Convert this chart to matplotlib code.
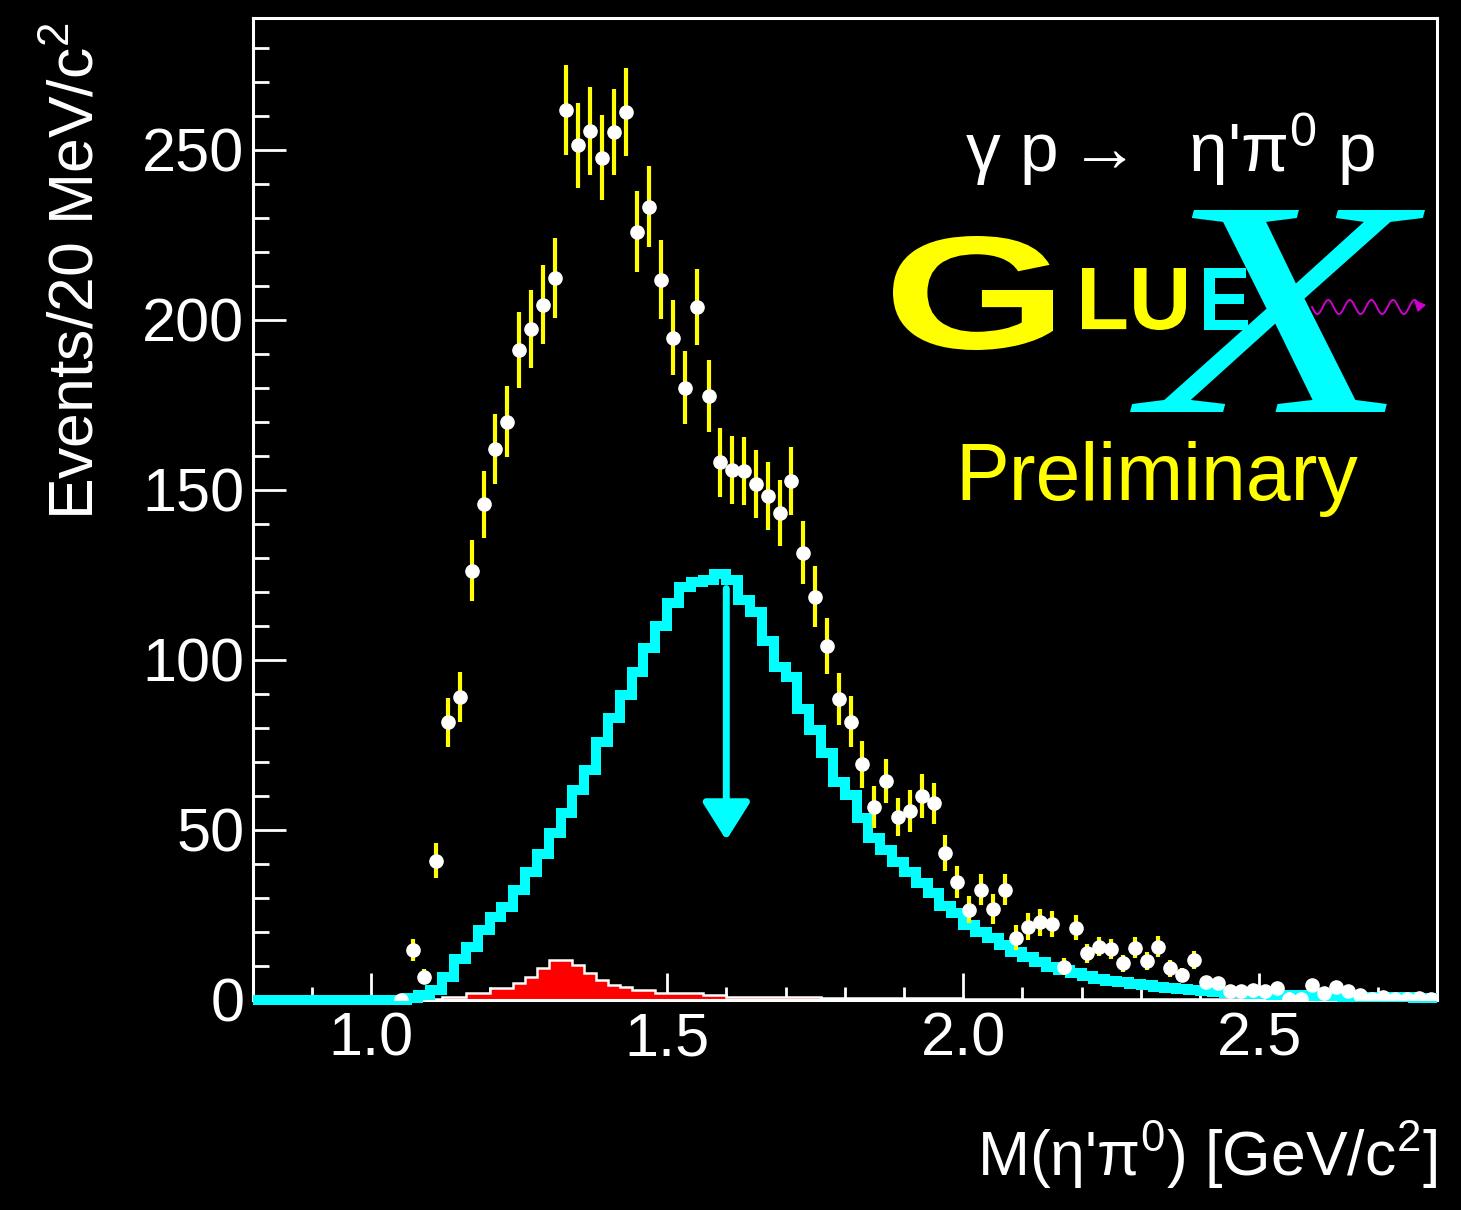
"""GlueX preliminary: M(eta' pi0) spectrum with fitted component histograms."""

import matplotlib
matplotlib.use('Agg')
import matplotlib.pyplot as plt
import numpy as np
from matplotlib.font_manager import FontProperties
from matplotlib.patches import PathPatch
from matplotlib.textpath import TextPath
from matplotlib.ticker import MultipleLocator
from matplotlib.transforms import Affine2D

plt.rcParams['font.family'] = ['Liberation Sans', 'DejaVu Sans']
plt.rcParams['mathtext.fontset'] = 'custom'
plt.rcParams['mathtext.rm'] = 'Liberation Sans'
plt.rcParams['mathtext.it'] = 'Liberation Sans:italic'
plt.rcParams['mathtext.bf'] = 'Liberation Sans:bold'

# binning: 20 MeV bins from 0.80 to 2.80 GeV
MASS_LO = 0.80
BIN_W = 0.02
N_BINS = 100

# cyan histogram (one value per bin, 0.81 ... 2.79)
CYAN_HIST = [
    0, 0, 0, 0, 0, 0, 0, 0, 0, 0,
    0, 0, 0, 0.5, 1.5, 3.0, 6.8, 12.0, 15.6, 20.5,
    24.4, 27.4, 32.3, 37.7, 43.0, 49.0, 55.0, 61.8, 67.6, 76.0,
    82.8, 89.7, 96.6, 103.4, 110.0, 116.7, 121.6, 123.0, 123.5, 125.3,
    123.5, 117.5, 114.0, 105.5, 98.0, 95.0, 85.5, 79.5, 72.5, 64.2,
    60.3, 53.4, 47.5, 44.1, 40.7, 37.7, 34.3, 31.4, 27.5, 25.5,
    22.1, 20.1, 18.1, 16.2, 14.2, 12.7, 11.3, 9.8, 8.8, 7.8,
    7.0, 6.3, 5.7, 5.2, 4.7, 4.3, 3.9, 3.5, 3.2, 2.9,
    2.6, 2.4, 2.2, 2.0, 1.8, 1.7, 1.6, 1.5, 1.4, 1.3,
    1.2, 1.1, 1.0, 1.0, 0.9, 0.9, 0.8, 0.8, 0.7, 0.7,
]

# red filled histogram (same binning)
RED_HIST = [
    0, 0, 0, 0, 0, 0, 0, 0, 0, 0,
    0, 0, 0, 0, 0, 0.4, 1.0, 1.0, 2.0, 2.0,
    3.4, 3.4, 4.9, 6.9, 9.3, 11.8, 11.8, 10.3, 7.8, 5.9,
    4.4, 3.9, 2.9, 2.9, 2.0, 2.0, 2.0, 2.0, 1.5, 1.5,
    1.0, 1.0, 1.0, 0.9, 0.9, 0.8, 0.8, 0.8, 0.7, 0.7,
    0.7, 0.6, 0.6, 0.6, 0.6, 0.5, 0.5, 0.5, 0.5, 0.5,
    0.4, 0.4, 0.4, 0.4, 0.4, 0.4, 0.4, 0.4, 0.4, 0.4,
    0.3, 0.3, 0.3, 0.3, 0.3, 0.3, 0.3, 0.3, 0.3, 0.3,
    0.3, 0.3, 0.3, 0.3, 0.3, 0.3, 0.3, 0.3, 0.3, 0.3,
    0.2, 0.2, 0.2, 0.2, 0.2, 0.2, 0.2, 0.2, 0.2, 0.2,
]

# data points start at the 1.05 GeV bin
DATA_FIRST_BIN = 12
DATA_COUNTS = [
    0.0, 14.7, 6.9, 41.0, 81.7, 89.2, 126.3, 145.8, 162.0, 170.1,
    191.2, 197.4, 204.5, 212.3, 261.8, 251.3, 255.6, 247.7, 255.2, 261.2,
    226.0, 233.3, 211.8, 194.8, 180.1, 203.8, 177.6, 158.1, 155.9, 155.7,
    151.8, 148.3, 143.1, 152.5, 131.6, 118.6, 104.2, 88.5, 81.9, 69.3,
    56.7, 64.4, 53.7, 55.6, 60.0, 57.8, 43.1, 34.6, 26.5, 32.4,
    26.8, 32.4, 18.3, 21.6, 22.8, 22.3, 9.8, 21.3, 13.7, 15.7,
    14.9, 10.8, 15.4, 11.5, 15.7, 9.3, 7.4, 11.8, 5.4, 4.9,
    2.5, 2.7, 2.9, 2.5, 3.4, 0.3, 0.3, 4.4, 2.0, 3.9,
    2.5, 1.5, 0.2, 1.0, 0.2, 0.2, 0.5, 0.2,
]
DATA_ERRORS = [
    0.0, 3.1, 2.1, 5.1, 7.2, 7.4, 9.0, 9.8, 10.3, 10.4,
    11.1, 11.4, 11.7, 11.8, 13.2, 12.6, 13.0, 12.5, 12.6, 13.0,
    12.0, 12.0, 11.6, 11.0, 10.8, 11.1, 10.6, 10.1, 10.0, 10.0,
    10.0, 10.0, 9.7, 10.0, 9.2, 8.9, 8.2, 7.7, 7.4, 6.9,
    6.1, 6.4, 5.6, 6.3, 6.4, 6.0, 5.3, 4.7, 4.0, 4.6,
    4.4, 4.6, 3.7, 3.9, 3.9, 3.8, 2.5, 3.7, 2.7, 2.9,
    2.9, 2.5, 3.0, 2.6, 3.0, 2.4, 2.1, 2.6, 1.8, 1.7,
    1.2, 1.3, 1.3, 1.2, 1.4, 0.4, 0.4, 1.6, 1.1, 1.5,
    1.2, 1.0, 0.3, 0.8, 0.3, 0.3, 0.5, 0.3,
]

# arrow marking the cyan peak
ARROW_X = 1.60
ARROW_FROM = 121.0
ARROW_TO = 47.0

CYAN = '#00ffff'
YELLOW = '#ffff00'
RED = '#ff0000'
MAGENTA = '#d000d0'

W, H = 1461, 1210


def add_glyphs(fig, text, box, color, prop, zorder=1):
    """Draw text as a filled path stretched into an image-pixel box (x0, y0, x1, y1)."""
    path = TextPath((0, 0), text, size=100, prop=prop)
    ext = path.get_extents()
    x0, y0, x1, y1 = box
    tr = (Affine2D().translate(-ext.x0, -ext.y0)
          .scale((x1 - x0) / ext.width, (y1 - y0) / ext.height)
          .translate(x0, H - y1)
          .scale(1.0 / W, 1.0 / H)) + fig.transFigure
    fig.add_artist(PathPatch(path, transform=tr, facecolor=color, edgecolor='none', lw=0,
                             zorder=zorder))


def main() -> int:
    edges = MASS_LO + BIN_W * np.arange(N_BINS + 1)
    centers = 0.5 * (edges[:-1] + edges[1:])
    data_x = centers[DATA_FIRST_BIN:DATA_FIRST_BIN + len(DATA_COUNTS)]

    fig = plt.figure(figsize=(W / 100, H / 100), dpi=100, facecolor='black')
    ax = fig.add_axes([252.7 / W, (H - 1000) / H, (1436.7 - 252.7) / W, (1000 - 18.3) / H])
    ax.set_facecolor('black')

    ax.stairs(RED_HIST, edges, fill=True, color=RED, lw=0, zorder=2)
    ax.stairs(RED_HIST, edges, color='white', lw=1.8, baseline=None, zorder=2.1)
    cyan = ax.stairs(CYAN_HIST, edges, color=CYAN, lw=7.2, baseline=None, zorder=3)
    cyan.set_clip_on(False)
    cyan.set_joinstyle('miter')

    ax.annotate('', xy=(ARROW_X, ARROW_TO), xytext=(ARROW_X, ARROW_FROM),
                arrowprops=dict(arrowstyle='-|>,head_length=2.3,head_width=1.45',
                                color=CYAN, lw=5.0, shrinkA=0, shrinkB=0), zorder=3)

    ax.errorbar(data_x, DATA_COUNTS, yerr=DATA_ERRORS, fmt='o', ms=9.5, mfc='white', mec='white',
                ecolor=YELLOW, elinewidth=3.0, capsize=0, zorder=5)

    ax.set_xlim(0.8, 2.8)
    ax.set_ylim(0, 288.7)
    ax.xaxis.set_major_locator(MultipleLocator(0.5))
    ax.xaxis.set_minor_locator(MultipleLocator(0.1))
    ax.yaxis.set_major_locator(MultipleLocator(50))
    ax.yaxis.set_minor_locator(MultipleLocator(10))
    ax.xaxis.set_major_formatter(lambda v, pos: f'{v:.1f}')
    ax.yaxis.set_major_formatter(lambda v, pos: f'{v:.0f}')
    ax.tick_params(which='both', direction='in', colors='white', width=2.0, labelsize=44)
    ax.tick_params(axis='x', which='major', length=19.5, pad=8)
    ax.tick_params(axis='x', which='minor', length=9.5)
    ax.tick_params(axis='y', which='major', length=24, pad=6)
    ax.tick_params(axis='y', which='minor', length=11.5)
    for side in ax.spines.values():
        side.set_color('white')
        side.set_linewidth(2.2)

    fig.text(106 / W, (H - 520) / H, 'Events/20 MeV/c$^2$', rotation=90, ha='right', va='bottom',
             color='white', fontsize=45)
    fig.text(1437 / W, (H - 1176) / H, "M(η'π$^0$) [GeV/c$^2$]", ha='right', va='baseline',
             color='white', fontsize=45)

    # reaction and logo
    fig.text(1375 / W, (H - 172) / H, "γ p$\\rightarrow$  η'π$^0$ p", ha='right',
             va='baseline', color='white', fontsize=50)
    bold = FontProperties(family='Liberation Sans', weight='bold')
    add_glyphs(fig, 'G', (893, 236, 1053, 350), YELLOW, bold)
    add_glyphs(fig, 'LU', (1082, 268, 1186, 330), YELLOW, bold)
    add_glyphs(fig, 'X', (1130, 210, 1425, 412), CYAN,
               FontProperties(family='Liberation Serif', style='italic'))
    add_glyphs(fig, 'E', (1204, 268, 1248, 330), CYAN, bold, zorder=2)
    t = np.linspace(0, 1, 400)
    wave_x = 1312 + 108 * t
    wave_y = 307 + 7 * np.sin(2 * np.pi * 5 * t)
    fig.add_artist(plt.Line2D(wave_x / W, (H - wave_y) / H, color=MAGENTA, lw=1.4,
                              transform=fig.transFigure, zorder=3))
    fig.add_artist(plt.Polygon([[1425 / W, (H - 305) / H], [1415 / W, (H - 301) / H],
                                [1418 / W, (H - 311) / H]], closed=True, color=MAGENTA,
                               transform=fig.transFigure, zorder=3))
    fig.text(955 / W, (H - 500) / H, 'Preliminary', ha='left', va='baseline',
             color=YELLOW, fontsize=58)

    fig.savefig('out.png', dpi=100, facecolor='black')
    plt.close(fig)
    return 0


if __name__ == '__main__':
    raise SystemExit(main())
